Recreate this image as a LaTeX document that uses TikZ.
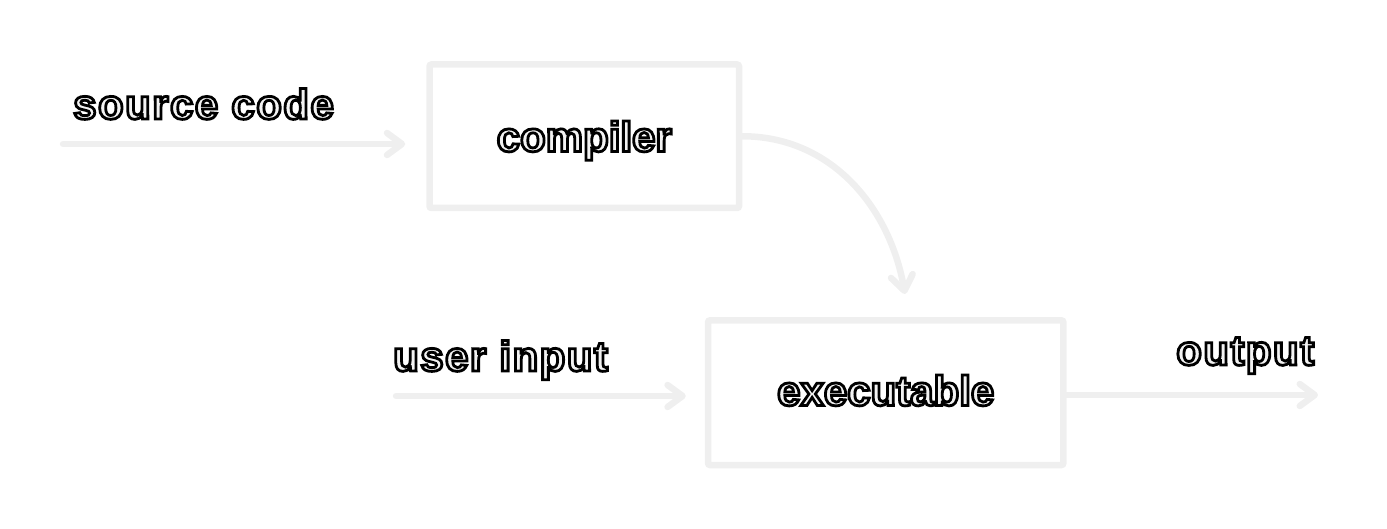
\documentclass[tikz,border=0pt]{standalone}
\usepackage{fontspec}
\setmainfont{Liberation Sans}
\newfontfamily\boxfont{Liberation Sans Bold}
\newfontfamily\lblfont[LetterSpace=3.5]{Liberation Sans Bold}
\usetikzlibrary{arrows.meta}
\definecolor{edgegray}{RGB}{239,239,239}
\definecolor{txtfill}{RGB}{243,243,243}
\newcommand\outlined[1]{\special{pdf:code 0 G 2.8 w 2 Tr}#1\special{pdf:code 0 Tr}}
\tikzset{
  box/.style={draw=edgegray, line width=6.5pt, rounded corners=2pt,
    text=txtfill, font=\boxfont\fontsize{42}{46}\selectfont, inner sep=0pt},
  flow/.style={draw=edgegray, line width=6.5pt, line cap=round,
    -{Straight Barb[round,length=15pt,width=22pt]}},
  lbl/.style={text=txtfill, font=\lblfont\fontsize{42}{46}\selectfont,
    anchor=base west, inner sep=0pt}
}
\begin{document}
\begin{tikzpicture}[x=1pt,y=-1pt]
\useasboundingbox (0,0) rectangle (1387,529);
\node[box, minimum width=309.5pt, minimum height=143.5pt,
  text height=38pt, text depth=7.5pt] (compiler) at (584.25,136.25) {\outlined{compiler}};
\node[box, minimum width=355.3pt, minimum height=144.7pt,
  text height=34pt, text depth=8.4pt] (executable) at (885.7,392.7) {\outlined{executable}};
\coordinate (srcin) at (63,144);
\coordinate (usrin) at (396,396);
\coordinate (outend) at (1318,395);
\coordinate (exectop) at (905,294);
\draw[flow, shorten >=21pt] (srcin) -- (srcin -| compiler.west);
\draw[flow, shorten >=19pt] (usrin) -- (usrin -| executable.west);
\draw[flow] (executable.east |- outend) -- (outend);
\draw[flow] (compiler.east) to[out=0,in=100] (exectop);
\node[lbl] (srclbl) at (73,119) {\outlined{source code}};
\node[lbl] (usrlbl) at (393,371) {\outlined{user input}};
\node[lbl] (outlbl) at (1176,365) {\outlined{output}};
\end{tikzpicture}
\end{document}
